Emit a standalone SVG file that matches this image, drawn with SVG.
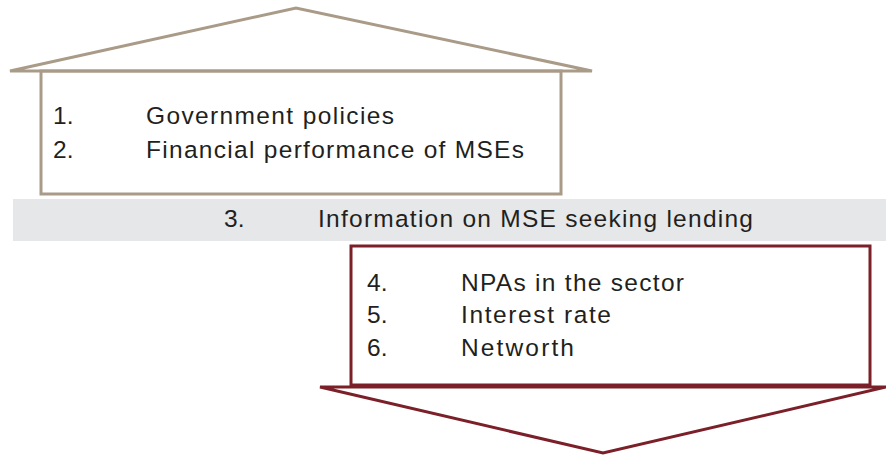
<svg xmlns="http://www.w3.org/2000/svg" width="886" height="455" viewBox="0 0 886 455">
  <style>
    .t { font-family: "Liberation Sans", Arial, sans-serif; font-size: 24.5px; fill: #231f20; }
    .tan { fill: none; stroke: #a99b87; stroke-width: 3; }
    .wine { fill: none; stroke: #7b2029; stroke-width: 3; }
  </style>
  <rect width="886" height="455" fill="#ffffff"/>

  <!-- upper house: roof + box -->
  <g id="node-upper">
    <polygon class="tan" points="10,71 296,8 592,71"/>
    <rect class="tan" x="41" y="71" width="520" height="123"/>
    <text class="t" x="53" y="124">1.</text>
    <text class="t" x="146" y="124" textLength="248">Government policies</text>
    <text class="t" x="53" y="157.5">2.</text>
    <text class="t" x="146" y="157.5" textLength="378">Financial performance of MSEs</text>
  </g>

  <!-- middle band -->
  <g id="node-middle">
    <rect x="13" y="199" width="873" height="42" fill="#e6e7e8"/>
    <text class="t" x="224" y="227">3.</text>
    <text class="t" x="318" y="227" textLength="435">Information on MSE seeking lending</text>
  </g>

  <!-- lower box -->
  <g id="node-lower">
    <rect class="wine" x="351" y="246" width="519" height="139"/>
    <text class="t" x="367" y="291">4.</text>
    <text class="t" x="461" y="291" textLength="223">NPAs in the sector</text>
    <text class="t" x="367" y="323">5.</text>
    <text class="t" x="461" y="323" textLength="150">Interest rate</text>
    <text class="t" x="367" y="355.5">6.</text>
    <text class="t" x="461" y="355.5" textLength="113">Networth</text>
  </g>

  <g id="connectors">
    <polygon class="wine" points="320,387 886,387 603,453"/>
  </g>
</svg>
